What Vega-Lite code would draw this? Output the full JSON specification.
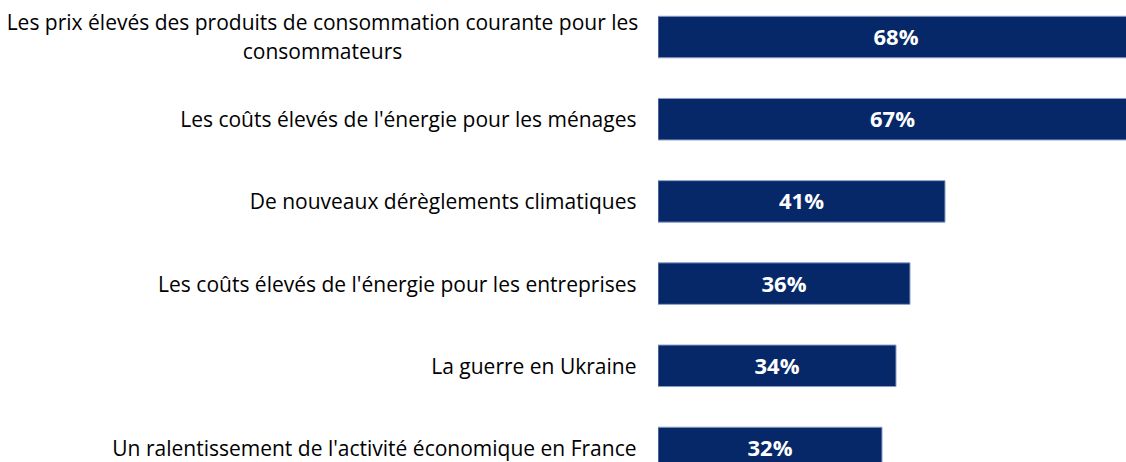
{
  "$schema": "https://vega.github.io/schema/vega-lite/v6.json",
  "autosize": {"type": "none"},
  "padding": {"left": 658, "top": 0, "right": 0, "bottom": 0},
  "width": 468,
  "height": 462,
  "background": "white",
  "config": {"view": {"stroke": null}},
  "data": {
    "values": [
      {"item": "Les prix élevés des produits de consommation courante pour les consommateurs", "pct": 0.68},
      {"item": "Les coûts élevés de l'énergie pour les ménages", "pct": 0.67},
      {"item": "De nouveaux dérèglements climatiques", "pct": 0.41},
      {"item": "Les coûts élevés de l'énergie pour les entreprises", "pct": 0.36},
      {"item": "La guerre en Ukraine", "pct": 0.34},
      {"item": "Un ralentissement de l'activité économique en France", "pct": 0.32}
    ]
  },
  "encoding": {
    "y": {
      "field": "item",
      "type": "nominal",
      "sort": null,
      "scale": {"range": [0, 485], "paddingInner": 0.495, "paddingOuter": 0.198},
      "axis": {
        "title": null,
        "domain": false,
        "ticks": false,
        "tickSize": 0,
        "labelFont": "Open Sans",
        "labelFontSize": 21,
        "labelColor": "#000000",
        "labelLimit": 0,
        "labelLineHeight": 29,
        "labelBaseline": "middle",
        "labelExpr": "length(datum.label) > 60 ? ['Les prix élevés des produits de consommation courante pour les', 'consommateurs'] : datum.label",
        "labelAlign": {"condition": {"test": "length(datum.value) > 60", "value": "center"}, "value": "right"},
        "labelPadding": {"condition": {"test": "length(datum.value) > 60", "value": 336}, "value": 22},
        "labelOffset": {"condition": {"test": "length(datum.value) > 60", "value": -13}, "value": 2}
      }
    }
  },
  "layer": [
    {
      "mark": {"type": "bar", "color": "#062868", "stroke": "#8a9cc8", "strokeWidth": 1, "clip": true},
      "encoding": {
        "x": {"field": "pct", "type": "quantitative", "scale": {"domain": [0, 0.66857], "nice": false, "zero": true}, "axis": null}
      }
    },
    {
      "mark": {"type": "text", "color": "#ffffff", "font": "Open Sans", "fontWeight": "bold", "fontSize": 22, "align": "center", "baseline": "middle", "dy": 1},
      "encoding": {
        "x": {"field": "pct", "type": "quantitative", "scale": {"domain": [0, 1.33714], "nice": false, "zero": true}, "axis": null},
        "text": {"field": "pct", "type": "quantitative", "format": ".0%"}
      }
    }
  ],
  "resolve": {"scale": {"x": "independent"}}
}
